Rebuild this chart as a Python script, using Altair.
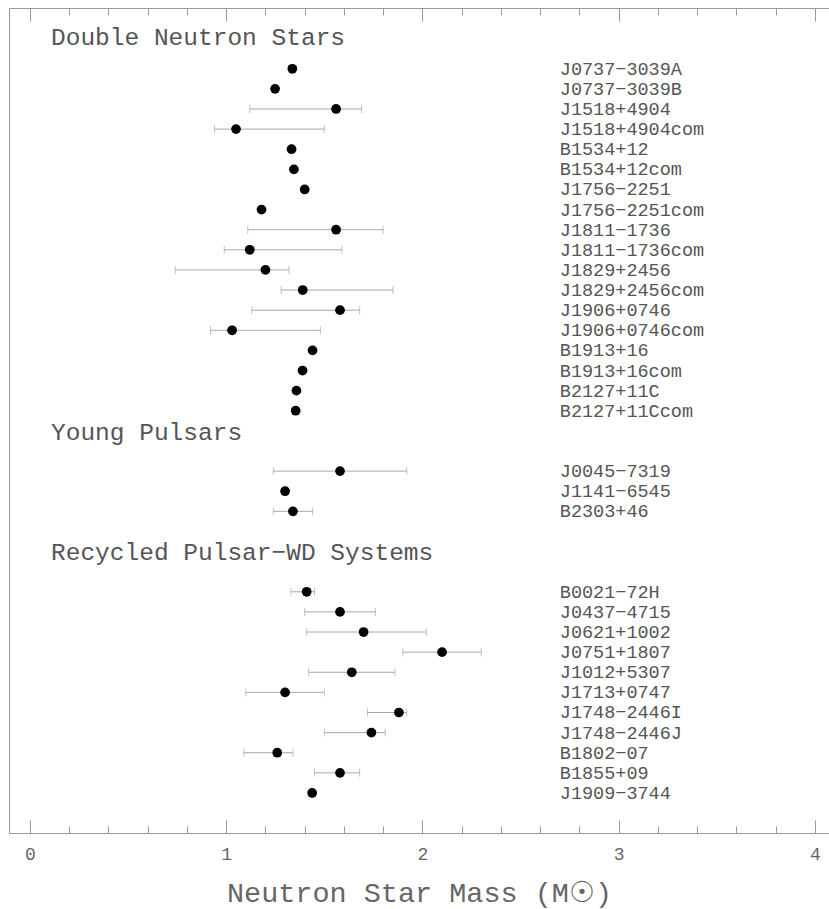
import altair as alt
import pandas as pd

# ---------------- data ----------------
dns_names = ["J0737−3039A", "J0737−3039B", "J1518+4904", "J1518+4904com",
             "B1534+12", "B1534+12com", "J1756−2251", "J1756−2251com",
             "J1811−1736", "J1811−1736com", "J1829+2456", "J1829+2456com",
             "J1906+0746", "J1906+0746com", "B1913+16", "B1913+16com",
             "B2127+11C", "B2127+11Ccom"]
dns_mass = [1.337, 1.249, 1.56, 1.05, 1.333, 1.345, 1.40, 1.18,
            1.56, 1.12, 1.20, 1.39, 1.58, 1.03, 1.44, 1.389, 1.358, 1.354]
dns_lo = [None, None, 1.12, 0.94, None, None, None, None,
          1.11, 0.99, 0.74, 1.28, 1.13, 0.92, None, None, None, None]
dns_hi = [None, None, 1.69, 1.50, None, None, None, None,
          1.80, 1.59, 1.32, 1.85, 1.68, 1.48, None, None, None, None]

young_names = ["J0045−7319", "J1141−6545", "B2303+46"]
young_mass = [1.58, 1.30, 1.34]
young_lo = [1.24, None, 1.24]
young_hi = [1.92, None, 1.44]

rec_names = ["B0021−72H", "J0437−4715", "J0621+1002", "J0751+1807",
             "J1012+5307", "J1713+0747", "J1748−2446I", "J1748−2446J",
             "B1802−07", "B1855+09", "J1909−3744"]
rec_mass = [1.41, 1.58, 1.70, 2.10, 1.64, 1.30, 1.88, 1.74, 1.26, 1.58, 1.438]
rec_lo = [1.33, 1.40, 1.41, 1.90, 1.42, 1.10, 1.72, 1.50, 1.09, 1.45, None]
rec_hi = [1.45, 1.76, 2.02, 2.30, 1.86, 1.50, 1.92, 1.81, 1.34, 1.68, None]

group_titles = ["Double Neutron Stars", "Young Pulsars", "Recycled Pulsar−WD Systems"]
group_first_row = [0, 20, 26]          # row slot of first entry in each group
group_title_row = [-1.16, 18.47, 24.4]  # row slot of group title baseline

major_ticks = [0, 1, 2, 3, 4]
minor_ticks = [0.2, 0.4, 0.6, 0.8, 1.2, 1.4, 1.6, 1.8, 2.2, 2.4, 2.6, 2.8,
               3.2, 3.4, 3.6, 3.8]

# ---------------- tables ----------------
recs = []
for names, mass, lo, hi, start in [
    (dns_names, dns_mass, dns_lo, dns_hi, group_first_row[0]),
    (young_names, young_mass, young_lo, young_hi, group_first_row[1]),
    (rec_names, rec_mass, rec_lo, rec_hi, group_first_row[2]),
]:
    for i, n in enumerate(names):
        recs.append({"name": n, "mass": mass[i], "lo": lo[i], "hi": hi[i], "row": start + i})
df = pd.DataFrame(recs)
hdr = pd.DataFrame({"title": group_titles, "row": group_title_row})

# ---------------- styling ----------------
FONT = "Liberation Mono"
GRID_GRAY = "#9a9a9a"
BAR_GRAY = "#a8a8a8"
TEXT_GRAY = "#555555"

xs = alt.Scale(domain=[-0.107, 4.072], nice=False, zero=False)
ys = alt.Scale(domain=[-3.02, 37.99], nice=False, zero=False, reverse=True)

common = dict(domain=False, grid=False, tickColor=GRID_GRAY, tickWidth=1)
ax_bottom_major = alt.Axis(orient="bottom", values=major_ticks, offset=-13, tickSize=13,
                           labels=True, format="d", labelFont=FONT, labelFontSize=18,
                           labelColor="#666666", labelPadding=12,
                           title="Neutron Star Mass (M☉)", titleFont=FONT,
                           titleFontSize=28.5, titleColor="#666666",
                           titleFontWeight="normal", titlePadding=15, **common)
ax_bottom_minor = alt.Axis(orient="bottom", values=minor_ticks, offset=-7, tickSize=7,
                           labels=False, title=None, **common)
ax_top_major = alt.Axis(orient="top", values=major_ticks, offset=-13, tickSize=13,
                        labels=False, title=None, **common)
ax_top_minor = alt.Axis(orient="top", values=minor_ticks, offset=-7, tickSize=7,
                        labels=False, title=None, **common)

base = alt.Chart(df)
y_enc = alt.Y("row:Q", scale=ys, axis=None)
with_err = base.transform_filter("isValid(datum.lo) && isValid(datum.hi)")

bars = with_err.mark_rule(color=BAR_GRAY, strokeWidth=1).encode(
    x=alt.X("lo:Q", scale=xs, axis=ax_bottom_major), x2="hi:Q", y=y_enc)
cap_lo = with_err.mark_tick(orient="vertical", size=8, thickness=1, color=BAR_GRAY).encode(
    x=alt.X("lo:Q", scale=xs, axis=ax_bottom_minor), y=y_enc)
cap_hi = with_err.mark_tick(orient="vertical", size=8, thickness=1, color=BAR_GRAY).encode(
    x=alt.X("hi:Q", scale=xs, axis=ax_top_major), y=y_enc)
points = base.mark_circle(size=95, color="black", opacity=1).encode(
    x=alt.X("mass:Q", scale=xs, axis=ax_top_minor), y=y_enc)
labels = base.mark_text(align="left", baseline="middle", font=FONT, fontSize=18.5,
                        color=TEXT_GRAY).encode(
    x=alt.XDatum(2.70, type="quantitative", scale=xs, axis=None), y=y_enc, text="name:N")
headers = alt.Chart(hdr).mark_text(align="left", baseline="alphabetic", font=FONT,
                                   fontSize=24.5, color=TEXT_GRAY).encode(
    x=alt.XDatum(0.107, type="quantitative", scale=xs, axis=None),
    y=alt.Y("row:Q", scale=ys, axis=None), text="title:N")

chart = alt.layer(bars, cap_lo, cap_hi, points, labels, headers).resolve_axis(
    x="independent").resolve_scale(x="shared", y="shared").properties(
    width=820, height=825,
    padding={"left": 9, "top": 8, "right": 0, "bottom": 76},
    autosize=alt.AutoSizeParams(type="none"),
).configure_view(stroke=GRID_GRAY, strokeWidth=1)

chart.save("out.html", embed_options={"renderer": "svg", "actions": False})
